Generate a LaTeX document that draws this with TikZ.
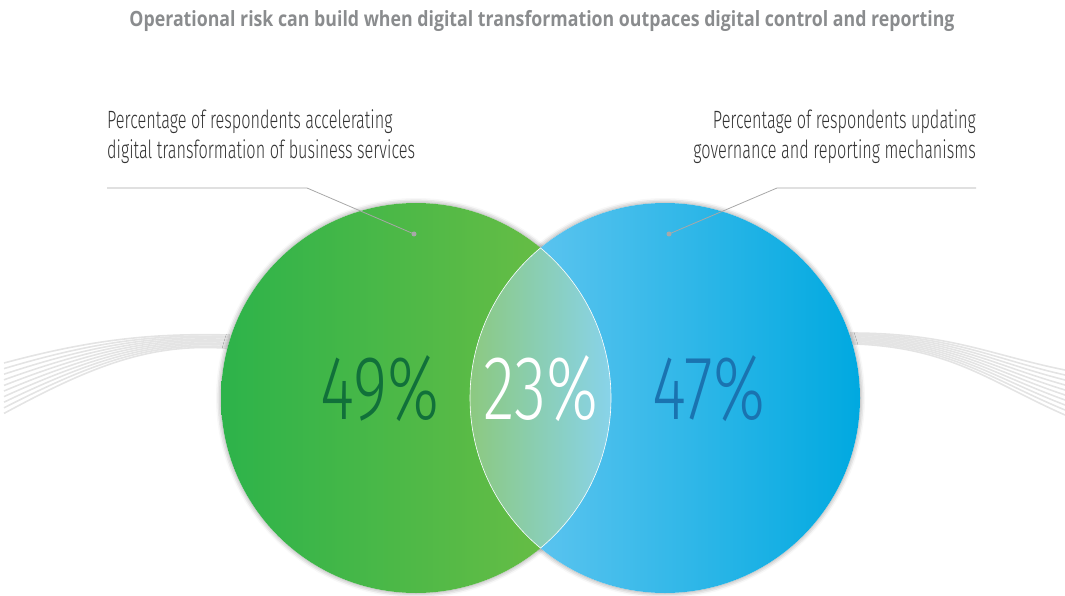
\documentclass[tikz,border=0pt]{standalone}
\usepackage{fontspec}
\setmainfont{Open Sans}
\newfontfamily\titlefont{Open Sans}[FakeStretch=0.845]
\IfFontExistsTF{Fira Sans Light}{%
    \newfontfamily\thinfont{Fira Sans Light}[FakeStretch=0.65]
    \newfontfamily\bigfont{Fira Sans Light}[FakeStretch=0.72]
}{%
    \newfontfamily\thinfont{Open Sans}[FakeStretch=0.647]
    \newfontfamily\bigfont{Open Sans}[FakeStretch=0.66]
}
\usetikzlibrary{shadows.blur}

\definecolor{greenL}{HTML}{2DB34A}
\definecolor{greenR}{HTML}{72BF44}
\definecolor{blueL}{HTML}{6DC9F2}
\definecolor{blueR}{HTML}{00A9E0}
\definecolor{lensL}{HTML}{8CC980}
\definecolor{lensR}{HTML}{88D3EA}
\definecolor{titlegray}{HTML}{8A8C8E}
\definecolor{leadergray}{HTML}{A8A8A8}
\definecolor{pctgreen}{HTML}{11703A}
\definecolor{pctblue}{HTML}{1A73B0}
\definecolor{wavegray}{HTML}{E4E4E4}

\begin{document}
\begin{tikzpicture}[x=1pt,y=1pt,
    desc/.style={font=\thinfont\fontsize{25}{30.5}\selectfont, text=black!80, inner sep=0pt},
    pct/.style={font=\bigfont\fontsize{91}{91}\selectfont, inner sep=0pt},
    leader/.style={draw=leadergray, line width=0.8pt},
    wave/.style={draw=wavegray, line width=1.6pt},
    softshadow/.style={blur shadow={shadow xshift=0pt, shadow yshift=0pt,
        shadow blur radius=5pt, shadow opacity=45}}]
    \useasboundingbox (0,0) rectangle (1065,595);

    % title
    \node[font=\titlefont\bfseries\fontsize{21}{25}\selectfont, text=titlegray, anchor=base]
        (title) at (542,568) {Operational risk can build when digital transformation outpaces digital control and reporting};

    % grey ribbons behind the circles
    \foreach \i in {0,...,9} {
        \draw[wave] (4,232-5.6*\i) .. controls (90,255-3*\i) and (150,262-\i) .. (230,260-1.5*\i);
        \draw[wave] (850,262-1.2*\i) .. controls (950,262-1.5*\i) and (990,240-3*\i) .. (1065,225-5*\i);
    }

    % the two sets
    \coordinate (gc) at (416,197);
    \coordinate (bc) at (665,197);
    \fill[white, softshadow] (gc) circle (195);
    \fill[white, softshadow] (bc) circle (195);
    \shade[left color=greenL, right color=greenR] (gc) circle (195);
    \shade[left color=blueL, right color=blueR] (bc) circle (195);

    % overlap
    \begin{scope}
        \clip (gc) circle (195);
        \clip (bc) circle (195);
        \shade[left color=lensL, right color=lensR] (470,0) rectangle (611,595);
    \end{scope}
    \begin{scope}
        \clip (gc) circle (195);
        \draw[white, line width=0.6pt] (bc) circle (195);
    \end{scope}
    \begin{scope}
        \clip (bc) circle (195);
        \draw[white, line width=0.6pt] (gc) circle (195);
    \end{scope}

    \node[pct, text=pctgreen] (pg) at (380,206) {49\%};
    \node[pct, text=white] (pm) at (541,206) {23\%};
    \node[pct, text=pctblue] (pb) at (709,206) {47\%};

    % descriptions and leaders
    \node[desc, align=left, anchor=base west] (dg) at (107,436)
        {Percentage of respondents accelerating\\digital transformation of business services};
    \node[desc, align=right, anchor=base east] (db) at (976,436)
        {Percentage of respondents updating\\governance and reporting mechanisms};

    \fill[leadergray] (414,361) coordinate (gd) circle (2.5);
    \coordinate (gk) at (307,407);
    \coordinate (ge) at (107,407);
    \draw[leader] (ge) -- (gk) -- (gd);

    \fill[leadergray] (669,361) coordinate (bd) circle (2.5);
    \coordinate (bk) at (777,407);
    \coordinate (be) at (976,407);
    \draw[leader] (be) -- (bk) -- (bd);
\end{tikzpicture}
\end{document}
